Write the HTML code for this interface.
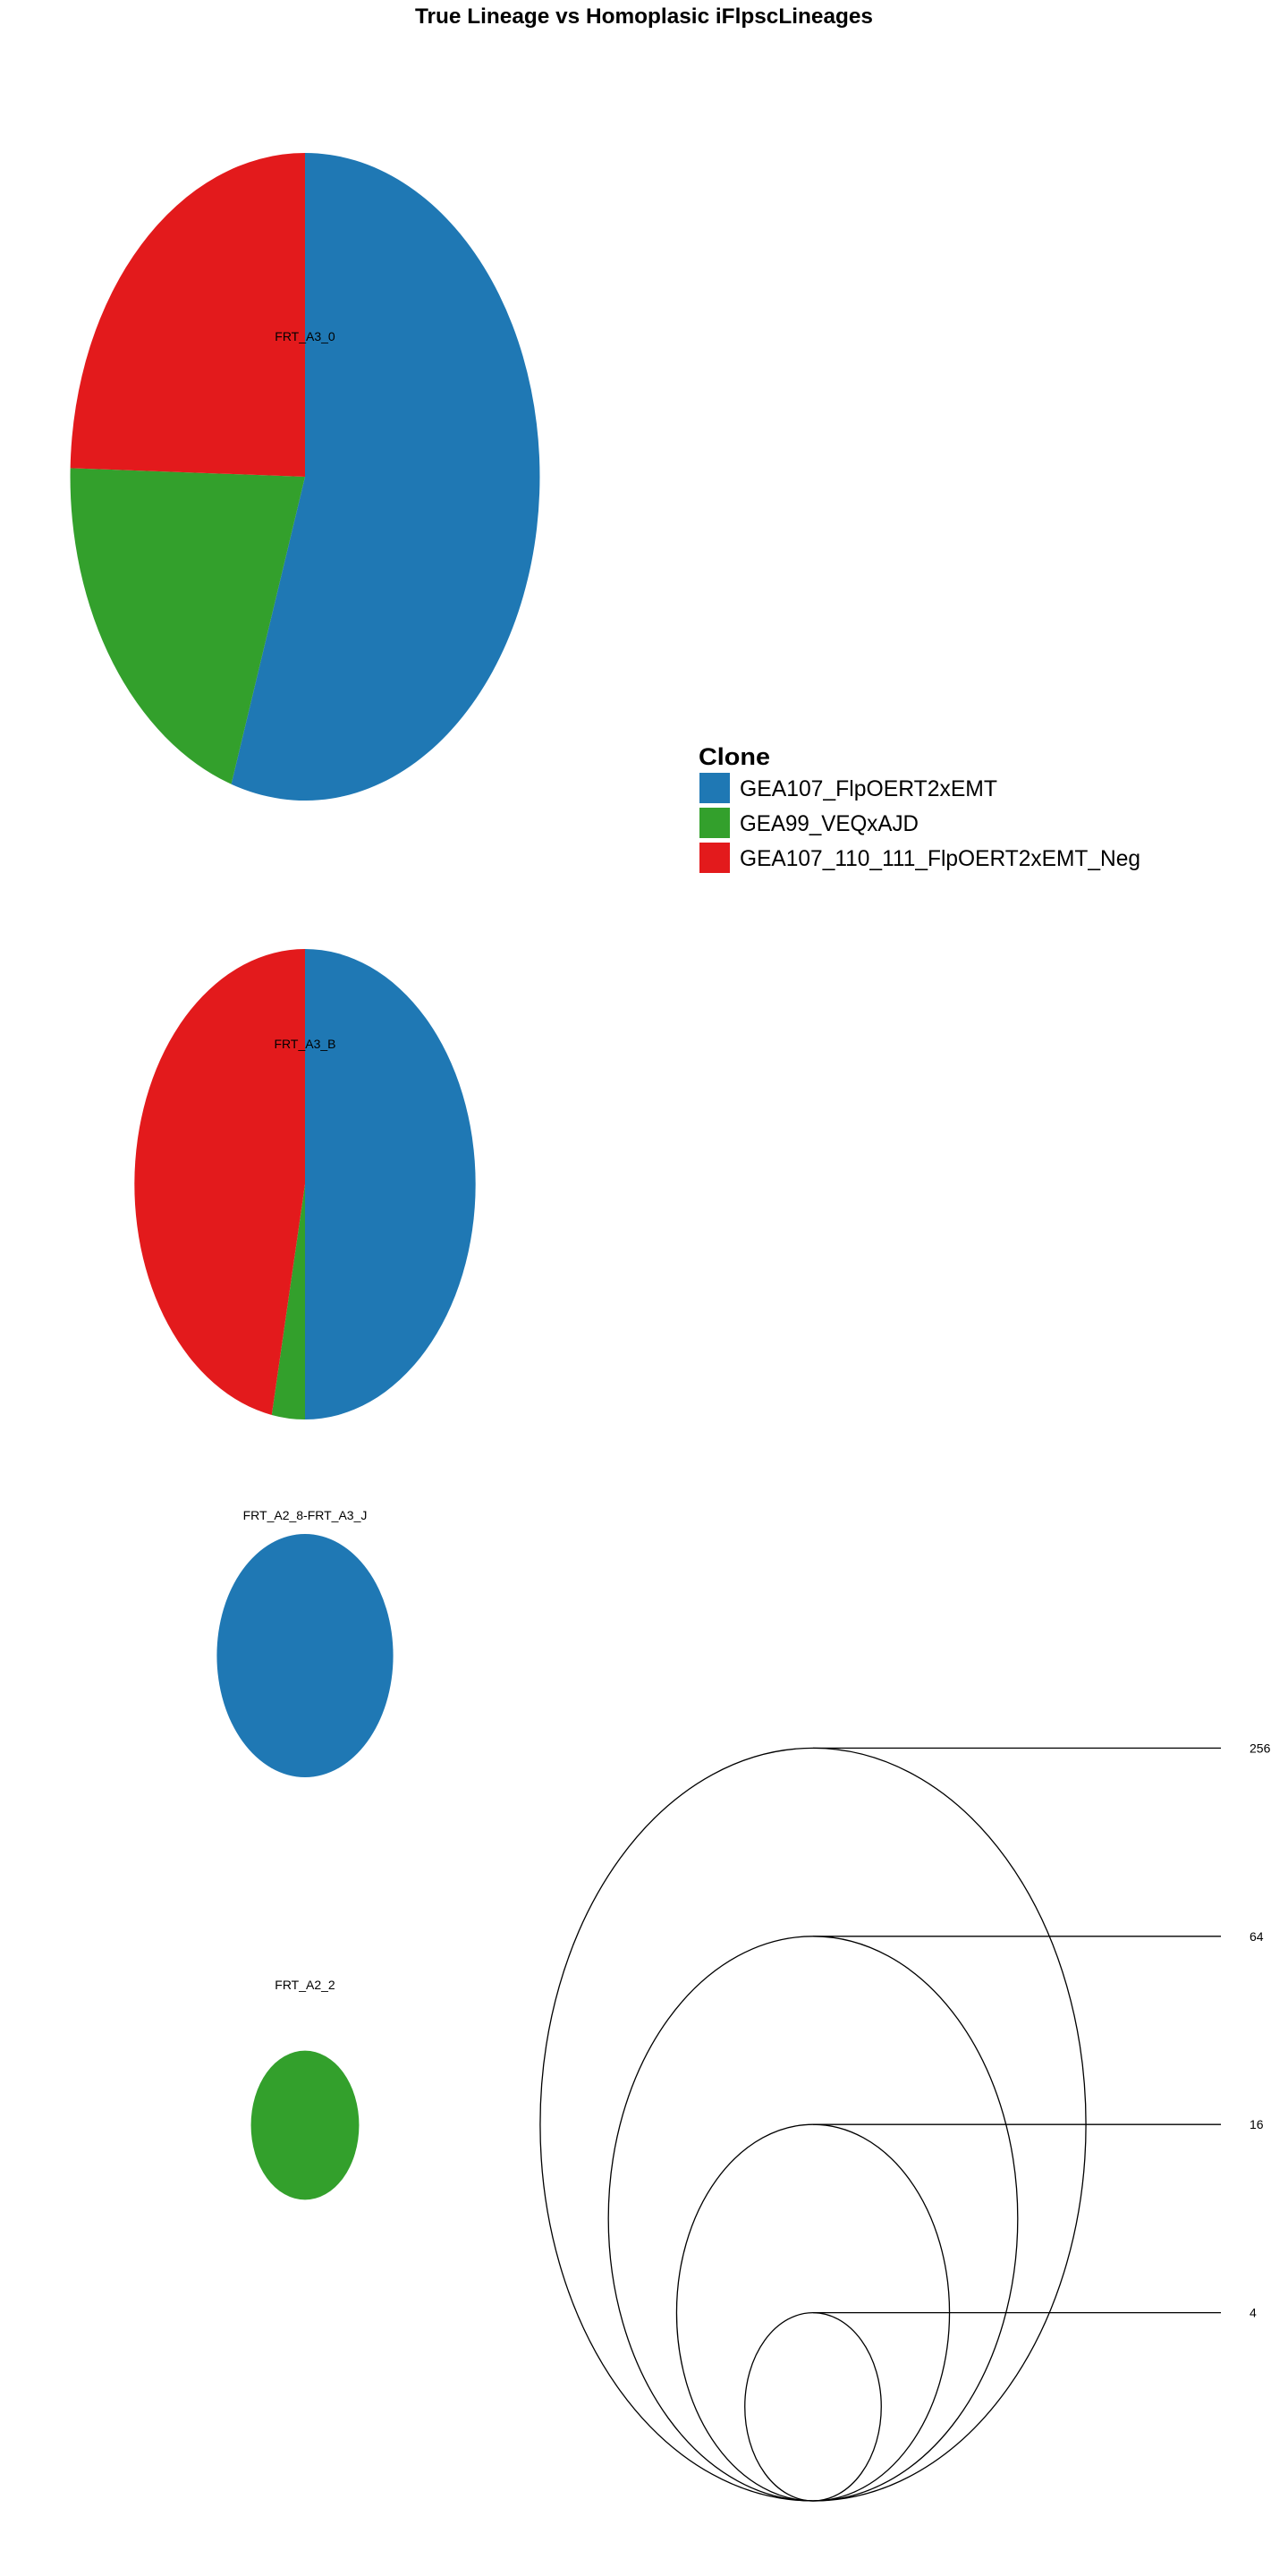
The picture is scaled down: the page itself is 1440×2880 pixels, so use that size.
<!DOCTYPE html>
<html><head><meta charset="utf-8"><style>
html,body{margin:0;padding:0;background:#fff}
svg{display:block}
text{font-family:"Liberation Sans",sans-serif}
</style></head><body>
<svg id="chart" width="1440" height="2880" viewBox="0 0 1440 2880" xmlns="http://www.w3.org/2000/svg">
<text x="720" y="26" text-anchor="middle" font-size="24" font-weight="bold" textLength="512" lengthAdjust="spacingAndGlyphs">True Lineage vs Homoplasic iFlpscLineages</text>
<g id="pies"></g>
<g id="sizeLegend"></g>
<g>
<text x="781" y="855" font-size="27" font-weight="bold" textLength="80" lengthAdjust="spacingAndGlyphs">Clone</text>
<rect x="782" y="864" width="34" height="34" fill="#1F78B4"/>
<text x="827" y="890" font-size="25" textLength="288" lengthAdjust="spacingAndGlyphs">GEA107_FlpOERT2xEMT</text>
<rect x="782" y="903" width="34" height="34" fill="#33A02C"/>
<text x="827" y="929" font-size="25" textLength="200" lengthAdjust="spacingAndGlyphs">GEA99_VEQxAJD</text>
<rect x="782" y="942" width="34" height="34" fill="#E31A1C"/>
<text x="827" y="968" font-size="25" textLength="448" lengthAdjust="spacingAndGlyphs">GEA107_110_111_FlpOERT2xEMT_Neg</text>
</g>
</svg>
<script>
const pieNames = ["FRT_A3_0", "FRT_A3_B", "FRT_A2_8-FRT_A3_J", "FRT_A2_2"];
const blueCounts = [65, 16, 6, 0];
const greenCounts = [24, 1, 0, 3];
const redCounts = [29, 15, 0, 0];
const sizeBreaks = [256, 64, 16, 4];
const colors = ["#1F78B4", "#33A02C", "#E31A1C"];
const seriesKeys = ["blue", "green", "red"];

const NS = "http://www.w3.org/2000/svg";
const pieCx = 341;
const pieCenters = [533, 1324, 1851, 2376];
function ryScale(n){ return 52.6 * Math.log2(n); }
function rxScale(n){ return 0.725 * ryScale(n); }
function pt(cx, cy, rx, ry, frac){
  const a = frac * 2 * Math.PI;
  return [cx + rx * Math.sin(a), cy - ry * Math.cos(a)];
}
const pies = document.getElementById('pies');
pieNames.forEach((name, i) => {
  const vals = [blueCounts[i], greenCounts[i], redCounts[i]];
  const tot = vals.reduce((a, b) => a + b, 0);
  const cy = pieCenters[i], rx = rxScale(tot), ry = ryScale(tot);
  const g = document.createElementNS(NS, 'g');
  
  
  let cum = 0;
  vals.forEach((v, k) => {
    if (v <= 0) return;
    const f0 = cum / tot, f1 = (cum + v) / tot;
    cum += v;
    let el;
    if (v === tot) {
      el = document.createElementNS(NS, 'ellipse');
      el.setAttribute('cx', pieCx); el.setAttribute('cy', cy);
      el.setAttribute('rx', rx); el.setAttribute('ry', ry);
    } else {
      const p0 = pt(pieCx, cy, rx, ry, f0), p1 = pt(pieCx, cy, rx, ry, f1);
      const large = (f1 - f0) > 0.5 ? 1 : 0;
      el = document.createElementNS(NS, 'path');
      el.setAttribute('d', `M${pieCx},${cy} L${p0[0]},${p0[1]} A${rx},${ry} 0 ${large} 1 ${p1[0]},${p1[1]} Z`);
    }
    el.setAttribute('fill', colors[k]);
    
    
    g.appendChild(el);
  });
  const t = document.createElementNS(NS, 'text');
  
  
  t.setAttribute('x', pieCx); t.setAttribute('y', cy - 152);
  t.setAttribute('text-anchor', 'middle'); t.setAttribute('font-size', '14');
  t.textContent = name;
  g.appendChild(t);
  pies.appendChild(g);
});

const sl = document.getElementById('sizeLegend');
const slCx = 909, slBottom = 2796, lineEnd = 1365, labelX = 1397;
sizeBreaks.forEach(v => {
  const ry = ryScale(v), rx = rxScale(v), top = slBottom - 2 * ry;
  const e = document.createElementNS(NS, 'ellipse');
  
  
  e.setAttribute('cx', slCx); e.setAttribute('cy', slBottom - ry);
  e.setAttribute('rx', rx); e.setAttribute('ry', ry);
  e.setAttribute('fill', 'none'); e.setAttribute('stroke', '#000'); e.setAttribute('stroke-width', '1.3');
  sl.appendChild(e);
  const l = document.createElementNS(NS, 'line');
  
  
  l.setAttribute('x1', slCx); l.setAttribute('x2', lineEnd);
  l.setAttribute('y1', top); l.setAttribute('y2', top);
  l.setAttribute('stroke', '#000'); l.setAttribute('stroke-width', '1.3');
  sl.appendChild(l);
  const t = document.createElementNS(NS, 'text');
  
  
  t.setAttribute('x', labelX); t.setAttribute('y', top + 5);
  t.setAttribute('font-size', '14');
  t.textContent = v;
  sl.appendChild(t);
});
</script>
</body></html>
